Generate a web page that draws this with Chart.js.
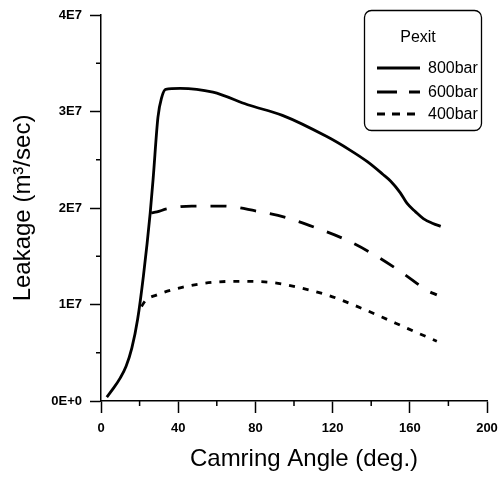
<!DOCTYPE html>
<html>
<head>
<meta charset="utf-8">
<script src="https://cdn.jsdelivr.net/npm/chart.js@4"></script>
<style>
  html, body { margin: 0; padding: 0; background: #fff; }
  #wrap { width: 500px; height: 478px; }
</style>
</head>
<body>
<div id="wrap"><canvas id="chart" width="500" height="478"></canvas></div>
<script>
// values (leakage in m3/sec)
const seriesLabels = ["800bar", "600bar", "400bar"];

const angle800 = [3, 6, 10, 13, 16, 19, 22, 25.5, 27, 29.5, 31.5, 33.5, 41, 58, 76, 94, 117, 129, 138, 146, 150, 155, 158.5, 163, 167, 172, 176];
const leak800 = [0.04e7, 0.12e7, 0.24e7, 0.36e7, 0.55e7, 0.85e7, 1.3e7, 1.95e7, 2.3e7, 2.94e7, 3.15e7, 3.23e7, 3.24e7, 3.2e7, 3.07e7, 2.96e7, 2.74e7, 2.6e7, 2.48e7, 2.35e7, 2.28e7, 2.16e7, 2.05e7, 1.96e7, 1.89e7, 1.84e7, 1.81e7];

const angle600 = [26, 29, 34, 47, 63, 80, 96, 112, 127, 142, 156, 169.5, 174];
const leak600 = [1.95e7, 1.96e7, 1.99e7, 2.02e7, 2.02e7, 1.97e7, 1.9e7, 1.79e7, 1.67e7, 1.51e7, 1.33e7, 1.14e7, 1.1e7];

const angle400 = [21, 23, 29, 42.5, 58, 72, 87.5, 101.5, 117, 131.5, 145.5, 159, 174];
const leak400 = [0.98e7, 1.04e7, 1.1e7, 1.18e7, 1.23e7, 1.24e7, 1.23e7, 1.18e7, 1.1e7, 0.99e7, 0.87e7, 0.75e7, 0.62e7];

const yTickLabels = ["0E+0", "1E7", "2E7", "3E7", "4E7"];
const xTickLabels = ["0", "40", "80", "120", "160", "200"];

const FONT = "'Liberation Sans', Arial, sans-serif";

function toPoints(xs, ys) {
  return xs.map((x, i) => ({ x: x, y: ys[i] }));
}

// small unlabelled ticks halfway between the labelled ones
const minorTicks = {
  id: "minorTicks",
  afterDraw(chart) {
    const ctx = chart.ctx;
    const xs = chart.scales.x, ys = chart.scales.y;
    ctx.save();
    ctx.strokeStyle = "#000";
    ctx.lineWidth = 1.5;
    ctx.beginPath();
    for (let v = 20; v < 200; v += 40) {
      const px = xs.getPixelForValue(v);
      ctx.moveTo(px, xs.top);
      ctx.lineTo(px, xs.top + 5);
    }
    for (let v = 0.5e7; v < 4e7; v += 1e7) {
      const py = ys.getPixelForValue(v);
      ctx.moveTo(ys.right, py);
      ctx.lineTo(ys.right - 5, py);
    }
    ctx.stroke();
    ctx.restore();
  }
};

// boxed legend in the top right corner
const boxLegend = {
  id: "boxLegend",
  afterDraw(chart) {
    const ctx = chart.ctx;
    ctx.save();
    ctx.strokeStyle = "#000";
    ctx.lineWidth = 1.3;
    ctx.beginPath();
    ctx.roundRect(364.5, 10.5, 117, 120, 7);
    ctx.stroke();

    ctx.fillStyle = "#000";
    ctx.textBaseline = "middle";
    ctx.textAlign = "center";
    ctx.font = "16px " + FONT;
    ctx.fillText("Pexit", 418, 38);

    ctx.textAlign = "left";
    ctx.font = "16px " + FONT;
    const rows = [68, 92, 114];
    chart.data.datasets.forEach((ds, i) => {
      const y = rows[i];
      ctx.lineWidth = ds.borderWidth;
      ctx.setLineDash(ds.legendDash);
      ctx.beginPath();
      ctx.moveTo(377, y);
      ctx.lineTo(420, y);
      ctx.stroke();
      ctx.setLineDash([]);
      ctx.fillText(ds.label, 428, y + 1);
    });
    ctx.restore();
  }
};

const ctx = document.getElementById("chart").getContext("2d");

const myChart = new Chart(ctx, {
  type: "line",
  data: {
    datasets: [
      {
        label: seriesLabels[0],
        data: toPoints(angle800, leak800),
        borderColor: "#000",
        borderWidth: 2.8,
        borderDash: [],
        legendDash: [],
        pointRadius: 0,
        cubicInterpolationMode: "monotone",
        fill: false,
      },
      {
        label: seriesLabels[1],
        data: toPoints(angle600, leak600),
        borderColor: "#000",
        borderWidth: 2.8,
        borderDash: [16, 14],
        legendDash: [20, 12],
        pointRadius: 0,
        cubicInterpolationMode: "monotone",
        fill: false,
      },
      {
        label: seriesLabels[2],
        data: toPoints(angle400, leak400),
        borderColor: "#000",
        borderWidth: 2.8,
        borderDash: [6, 8],
        legendDash: [8, 7],
        pointRadius: 0,
        cubicInterpolationMode: "monotone",
        fill: false,
      },
    ],
  },
  options: {
    responsive: false,
    animation: false,
    devicePixelRatio: 1,
    layout: { padding: { left: 0, top: 15, right: 13, bottom: 0 } },
    plugins: {
      legend: { display: false },
      tooltip: { enabled: false },
    },
    scales: {
      x: {
        type: "linear",
        min: 0,
        max: 200,
        afterFit: (scale) => {
          scale.height = 77;
          scale.paddingLeft = 0;
          scale.paddingRight = 0;
        },
        border: { display: true, color: "#000", width: 1.5 },
        grid: { drawOnChartArea: false, tickLength: 12, tickWidth: 1.5, tickColor: "#000" },
        ticks: {
          stepSize: 40,
          padding: 8,
          color: "#000",
          font: { family: FONT, size: 13, weight: "bold" },
          callback: function (value, index) {
            return xTickLabels[index];
          },
        },
        title: {
          display: true,
          text: "   Camring Angle (deg.)",
          color: "#000",
          font: { family: FONT, size: 24, lineHeight: 1 },
          padding: { top: 0, bottom: 7 },
        },
      },
      y: {
        min: 0,
        max: 4e7,
        afterFit: (scale) => {
          scale.width = 101;
          scale.paddingTop = 0;
          scale.paddingBottom = 0;
        },
        border: { display: true, color: "#000", width: 1.5 },
        grid: { drawOnChartArea: false, tickLength: 11, tickWidth: 1.5, tickColor: "#000" },
        ticks: {
          stepSize: 1e7,
          padding: 8,
          color: "#000",
          font: { family: FONT, size: 13, weight: "bold" },
          callback: function (value, index) {
            return yTickLabels[index];
          },
        },
        title: {
          display: true,
          text: "Leakage (m³/sec)",
          color: "#000",
          font: { family: FONT, size: 24, lineHeight: 1 },
          padding: { top: 11, bottom: 0 },
        },
      },
    },
  },
  plugins: [minorTicks, boxLegend],
});
</script>
</body>
</html>
